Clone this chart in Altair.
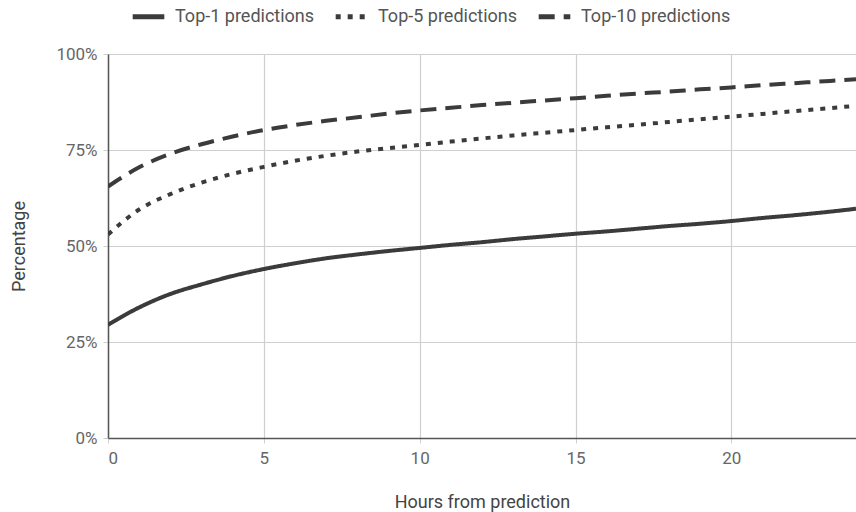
import altair as alt
import pandas as pd

hours = list(range(0, 25))
top1 = [29.5, 34, 37.5, 40, 42.2, 44, 45.5, 46.8, 47.8, 48.7, 49.5, 50.3, 51, 51.8, 52.5,
        53.2, 53.8, 54.5, 55.2, 55.8, 56.5, 57.3, 58, 58.8, 59.7]
top5 = [53, 59.5, 63.5, 66.5, 68.8, 70.6, 72.2, 73.5, 74.6, 75.5, 76.3, 77.2, 78, 78.8, 79.5,
        80.2, 80.9, 81.6, 82.3, 83, 83.7, 84.4, 85.1, 85.8, 86.5]
top10 = [65.5, 70.5, 74, 76.5, 78.5, 80.2, 81.5, 82.6, 83.5, 84.5, 85.3, 86, 86.7, 87.3, 87.9,
         88.5, 89.1, 89.7, 90.2, 90.8, 91.3, 91.9, 92.4, 92.9, 93.4]
series = ["Top-1 predictions", "Top-5 predictions", "Top-10 predictions"]

rows = []
for name, vals in zip(series, [top1, top5, top10]):
    for h, v in zip(hours, vals):
        rows.append({"hour": h, "pct": v, "series": name})
df = pd.DataFrame(rows)

font = "Roboto"
dark = "#3b3b3b"

chart = alt.Chart(df).mark_line(strokeWidth=4, color=dark, interpolate="monotone", clip=True).encode(
    x=alt.X("hour:Q", scale=alt.Scale(domain=[0, 24], nice=False, zero=True),
            axis=alt.Axis(values=[0, 5, 10, 15, 20], title="Hours from prediction",
                          titlePadding=27, labelPadding=7)),
    y=alt.Y("pct:Q", scale=alt.Scale(domain=[0, 100], nice=False),
            axis=alt.Axis(values=[0, 25, 50, 75, 100], labelExpr="datum.value + '%'",
                          title="Percentage", titlePadding=27, labelPadding=6)),
    strokeDash=alt.StrokeDash("series:N", sort=series,
                              scale=alt.Scale(domain=series, range=[[1, 0], [5, 7], [16, 9]]),
                              legend=alt.Legend(title=None, orient="none", direction="horizontal",
                                                legendX=22, legendY=-56, symbolType="stroke",
                                                symbolStrokeWidth=5, symbolStrokeColor=dark,
                                                symbolSize=1000, columnPadding=10,
                                                labelFontSize=18, labelColor="#555555",
                                                labelFont=font, labelOffset=8)),
).properties(
    width=748, height=384,
    autosize=alt.AutoSizeParams(type="none"),
    padding={"left": 108, "top": 54, "right": 0, "bottom": 74},
).configure_view(stroke=None).configure_axis(
    labelFont=font, titleFont=font, labelFontSize=17, titleFontSize=18,
    labelColor="#666666", titleColor="#444444", titleFontWeight="normal",
    gridColor="#cfcfcf", gridWidth=1.2, domainColor="#555555", domainWidth=1.5,
    tickColor="#cfcfcf", tickSize=5,
)

chart.save("out.html", embed_options={"renderer": "svg", "actions": False})
